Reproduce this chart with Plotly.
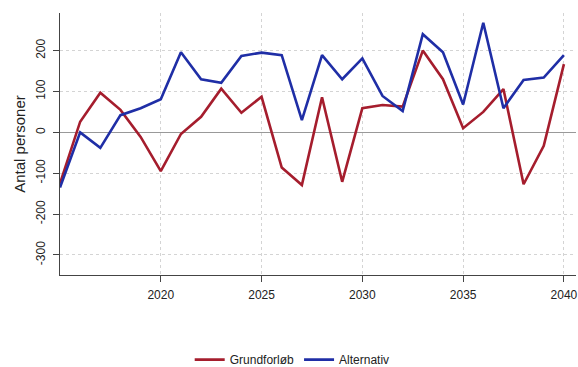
import plotly.graph_objects as go

years = list(range(2015, 2041))
grundforloeb = [-125, 26, 97, 55, -11, -95, -4, 38, 107, 48, 87, -86, -129, 86, -121, 59, 67, 63, 200, 130, 10, 50, 106, -127, -33, 167]
alternativ = [-135, 0, -38, 42, 59, 81, 196, 130, 121, 187, 195, 189, 30, 189, 130, 181, 89, 52, 240, 196, 68, 268, 59, 128, 134, 189]

x_ticks = [2020, 2025, 2030, 2035, 2040]
y_ticks = [-300, -200, -100, 0, 100, 200]
y_ticktext = ["-300", "-200", "-100", "0", "100", "200"]

fig = go.Figure()
fig.add_trace(go.Scatter(x=years, y=grundforloeb, mode="lines", name="Grundforløb",
                         line=dict(color="#A51D2D", width=2.6)))
fig.add_trace(go.Scatter(x=years, y=alternativ, mode="lines", name="Alternativ",
                         line=dict(color="#1F2EA6", width=2.6)))

fig.update_layout(
    width=578, height=367,
    margin=dict(l=60, r=2, t=13, b=92, autoexpand=False),
    paper_bgcolor="white", plot_bgcolor="white",
    font=dict(family="Liberation Sans, Arial, sans-serif", size=12, color="#222"),
    showlegend=True,
    legend=dict(orientation="h", x=0.45, xanchor="center",
                yref="container", y=0.02, yanchor="middle",
                font=dict(size=12), itemwidth=30, tracegroupgap=0),
)
fig.update_xaxes(
    automargin=False,
    range=[2015, 2040.6], tickvals=x_ticks, ticks="outside", ticklen=6, tickcolor="#444",
    ticklabelstandoff=3,
    showline=True, linecolor="#444", linewidth=1,
    showgrid=True, gridcolor="#d4d4d4", griddash="dot", gridwidth=1,
    zeroline=False, tickfont=dict(size=12),
)
fig.update_yaxes(
    automargin=False,
    range=[-349, 292], tickvals=y_ticks, ticktext=y_ticktext, tickangle=-90,
    ticks="outside", ticklen=6, tickcolor="#444", ticklabelstandoff=3,
    showline=True, linecolor="#444", linewidth=1,
    showgrid=True, gridcolor="#d4d4d4", griddash="dot", gridwidth=1,
    zeroline=True, zerolinecolor="#999", zerolinewidth=1,
    title=dict(text="Antal personer", font=dict(size=15), standoff=4),
    tickfont=dict(size=12),
)

fig.write_html(
    "out.html",
    config={"displayModeBar": False},
    post_script="document.body.style.margin='0';document.body.style.overflow='hidden';",
)
